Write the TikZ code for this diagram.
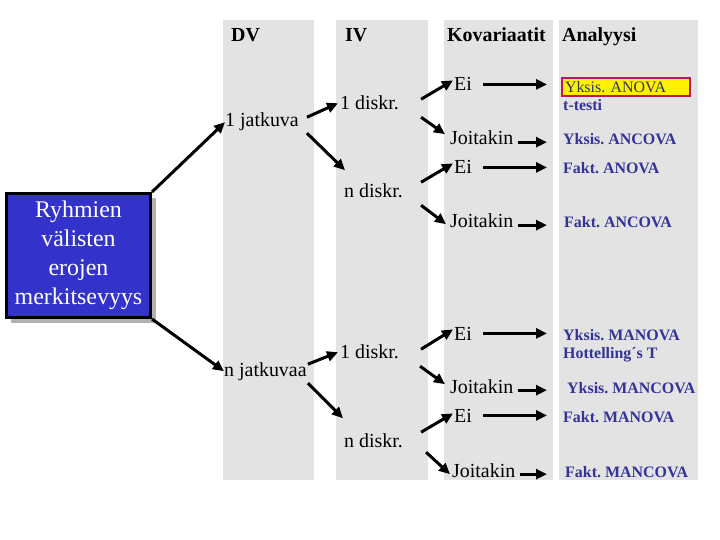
\documentclass[tikz,border=0pt]{standalone}
\usepackage{fontspec}
\setmainfont{Liberation Serif}
\usetikzlibrary{arrows.meta,calc,shadows}
\definecolor{colgray}{RGB}{227,227,227}
\definecolor{boxblue}{RGB}{51,51,204}
\definecolor{anblue}{RGB}{51,51,153}
\definecolor{anrim}{RGB}{185,20,110}
\definecolor{antext}{RGB}{51,51,102}
\frenchspacing

\begin{document}
\begin{tikzpicture}[x=1bp,y=-1bp,
  hdr/.style={anchor=base west,inner sep=0pt,font=\fontsize{20}{24}\bfseries},
  lbl/.style={anchor=base west,inner sep=0pt,font=\fontsize{20}{24}\selectfont},
  ana/.style={anchor=base west,inner sep=0pt,text=anblue,font=\fontsize{16}{19}\bfseries},
  arr/.style={-{Triangle[length=11bp,width=10bp]},line width=3bp}]
\useasboundingbox (0,0) rectangle (720,540);
\foreach \xa/\xb in {223/314,336/428,444/553,559/698}
  \fill[colgray] (\xa,20) rectangle (\xb,480);

\node[hdr] (hdv) at (231,42) {DV};
\node[hdr] (hiv) at (345,42) {IV};
\node[hdr] (hkov) at (447,42) {Kovariaatit};
\node[hdr] (hana) at (562,42) {Analyysi};

\node[draw=black,line width=3bp,fill=boxblue,text=white,minimum width=144bp,
  minimum height=124bp,align=center,font=\fontsize{24}{29}\selectfont,
  drop shadow={shadow xshift=5bp,shadow yshift=-5bp,fill=black!30,opacity=1}]
  (ryh) at (78.5,255.5) {Ryhmien\\ välisten\\ erojen\\ merkitsevyys};

% DV
\node[lbl] (jat1) at (225,127) {1 jatkuva};
\node[lbl] (jatn) at (224,376) {n jatkuvaa};
% IV
\node[lbl] (dis11) at (340,110) {1 diskr.};
\node[lbl] (disn1) at (344,198) {n diskr.};
\node[lbl] (dis12) at (340,358) {1 diskr.};
\node[lbl] (disn2) at (344,447) {n diskr.};
% Kovariaatit
\node[lbl] (ei1) at (454,91) {Ei};
\node[lbl] (joi1) at (450,145) {Joitakin};
\node[lbl] (ei2) at (454,174) {Ei};
\node[lbl] (joi2) at (450,228) {Joitakin};
\node[lbl] (ei3) at (454,340) {Ei};
\node[lbl] (joi3) at (450,393) {Joitakin};
\node[lbl] (ei4) at (454,422) {Ei};
\node[lbl] (joi4) at (452,477) {Joitakin};
% Analyysi
\node[anchor=west,draw=anrim,line width=2bp,fill=yellow,text=antext,text width=122bp,
  inner xsep=3bp,inner ysep=0pt,minimum height=18bp,font=\fontsize{16}{19}\selectfont]
  (an1) at (561,87) {Yksis. ANOVA};
\node[ana] (tt) at (563,111) {t-testi};
\node[ana] (an2) at (563,145) {Yksis. ANCOVA};
\node[ana] (an3) at (563,174) {Fakt. ANOVA};
\node[ana] (an4) at (564,228) {Fakt. ANCOVA};
\node[ana] (an5) at (563,340) {Yksis. MANOVA};
\node[ana] (hot) at (563,358) {Hottelling´s T};
\node[ana] (an6) at (567,393) {Yksis. MANCOVA};
\node[ana] (an7) at (563,422) {Fakt. MANOVA};
\node[ana] (an8) at (565,477) {Fakt. MANCOVA};
\coordinate (tip) at (547,0);

\draw[arr] (ryh.north east) -- (jat1.west);
\draw[arr] (ryh.south east) -- (jatn.west);
\draw[arr] ($(jat1.east)+(8,-5)$) -- ($(dis11.west)+(-2,0)$);
\draw[arr] ($(jat1.east)+(8,11)$) -- ($(disn1.west)+(1,-21)$);
\draw[arr] ($(jatn.east)+(1,-7)$) -- ($(dis12.west)+(-2,1)$);
\draw[arr] ($(jatn.east)+(1,12)$) -- ($(disn2.west)+(-1,-22)$);
\draw[arr] ($(dis11.east)+(22,-4)$) -- ($(ei1.west)+(-1,-4)$);
\draw[arr] ($(dis11.east)+(22,14)$) -- ($(joi1.west)+(-5,-4)$);
\draw[arr] ($(disn1.east)+(18,-9)$) -- ($(ei2.west)+(-1,-4)$);
\draw[arr] ($(disn1.east)+(18,14)$) -- ($(joi2.west)+(-4,3)$);
\draw[arr] ($(dis12.east)+(22,-2)$) -- ($(ei3.west)+(-1,-4)$);
\draw[arr] ($(dis12.east)+(21,15)$) -- ($(joi3.west)+(-5,-2)$);
\draw[arr] ($(disn2.east)+(18,-8)$) -- ($(ei4.west)+(-1,-2)$);
\draw[arr] ($(disn2.east)+(23,12)$) -- ($(joi4.west)+(-2,4)$);
\foreach \n in {ei1,ei2,ei3,ei4}
  \draw[arr] ($(\n.east)+(11,0)$) -- ($(\n.east -| tip)$);
\foreach \n in {joi1,joi2,joi3,joi4}
  \draw[arr] ($(\n.east)+(4,4)$) -- ($(\n.east -| tip)+(0,4)$);
\end{tikzpicture}
\end{document}
